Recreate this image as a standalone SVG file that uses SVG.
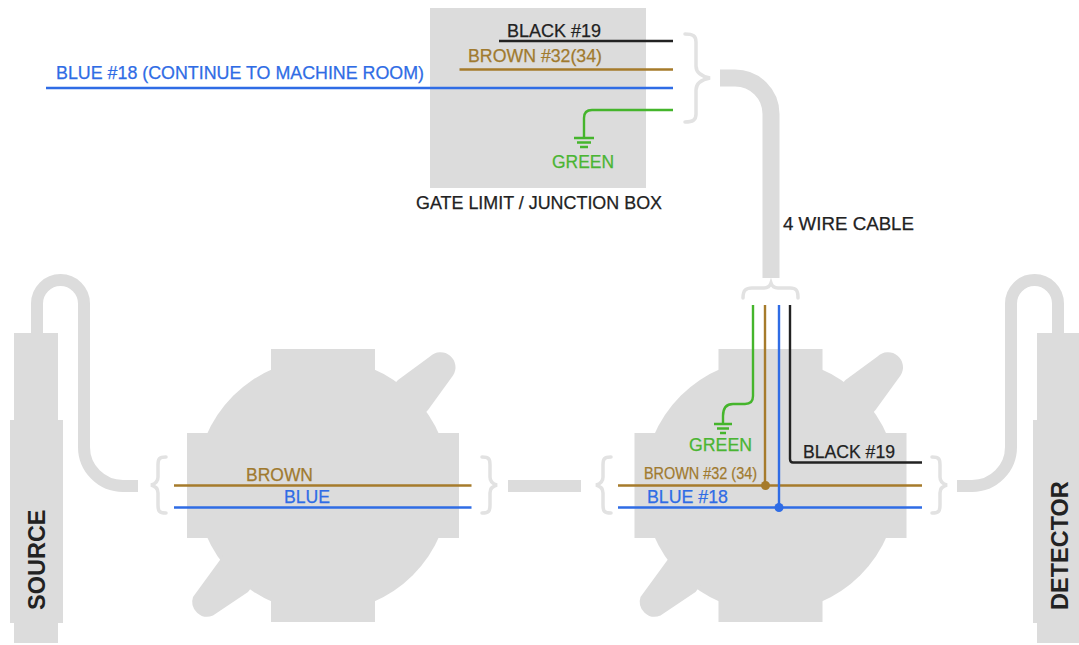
<svg xmlns="http://www.w3.org/2000/svg" width="1079" height="645" viewBox="0 0 1079 645">
<style>
text{font-family:"Liberation Sans",Arial,sans-serif;font-size:18px;stroke-width:.25px}
.g{fill:#dcdcdc;stroke:none}
.cable{fill:none;stroke:#dcdcdc}
.brace{fill:none;stroke:#e2e2e2;stroke-width:3.5;stroke-linecap:round}
.w{fill:none;stroke-width:2.4}
.k{stroke:#222}.br{stroke:#a67b2b}.bl{stroke:#2f6ce5}.gr{stroke:#45b52c}
.tk{fill:#222;stroke:#222}.tbr{fill:#a07a2f;stroke:#a07a2f}.tbl{fill:#2f6ce5;stroke:#2f6ce5}.tgr{fill:#4ab533;stroke:#4ab533}
.b{font-weight:bold;font-size:23.500px;fill:#222}
</style>
<defs>
<g id="housing">
<circle cx="0" cy="0" r="127" class="g"/>
<rect x="-52" y="-136.500" width="104" height="273" class="g"/>
<rect x="-136" y="-52.500" width="272" height="105" class="g"/>
<path class="g" d="M70-100L75-105.500L107-129A15 15 0 0 1 130-110L105-75.500L100-70Z"/>
<path class="g" d="M-70 100L-75 106.500L-110 130A15 15 0 0 1 -130 111.500L-103 74.500L-100 70Z"/>
</g>
<path id="brL" d="M16-28C9-28 8-26 8-20V-8C8-3 5-1 1 0C5 1 8 3 8 8V20C8 26 9 28 16 28" class="brace"/>
<path id="brR" d="M0-28C7-28 8-26 8-20V-8C8-3 11-1 15 0C11 1 8 3 8 8V20C8 26 7 28 0 28" class="brace"/>
</defs>

<g id="junction-box">
<rect x="430" y="8" width="216" height="180" class="g"/>
<text x="416" y="209" class="tk" textLength="246" lengthAdjust="spacingAndGlyphs">GATE LIMIT / JUNCTION BOX</text>
</g>
<g id="source">
<rect x="14" y="333" width="44" height="310" class="g"/>
<rect x="10" y="420" width="53" height="203" class="g"/>
<text transform="translate(45 610) rotate(-90)" class="b">SOURCE</text>
</g>
<g id="detector">
<rect x="1037" y="333" width="42" height="310" class="g"/>
<rect x="1033" y="420" width="46" height="203" class="g"/>
<text transform="translate(1068 610) rotate(-90)" class="b">DETECTOR</text>
</g>
<g id="left-housing"><use href="#housing" x="323" y="485.500"/></g>
<g id="right-housing"><use href="#housing" x="770.500" y="485.500"/></g>

<g id="connectors">
<path class="cable" stroke-width="12" d="M37 333V303.500A23.500 23.500 0 0 1 84 303.500V447A39 39 0 0 0 123 486H138"/>
<path class="cable" stroke-width="12" d="M1058 333V303.500A23.500 23.500 0 0 0 1011 303.500V447A39 39 0 0 1 972 486H957"/>
<rect x="508" y="480" width="73" height="12" class="g"/>
<path class="cable" stroke-width="17" d="M720 78H735A36 36 0 0 1 771 114V278"/>
<use href="#brL" x="150" y="485"/><use href="#brR" x="482" y="485"/>
<use href="#brL" x="595" y="485"/><use href="#brR" x="932" y="485"/>
<path class="brace" d="M685 34C693 34 696 36 696 42V66C696 72 700 76 710 78C700 80 696 84 696 90V114C696 120 693 122 685 122"/>
<path class="brace" d="M743 298C743 290 746 288 752 288H764C767 288 770 286 771 283C772 286 775 288 778 288H790C796 288 798 290 798 298"/>
<path class="w k" d="M499 41H673"/>
<path class="w br" d="M459.500 69.500H673"/>
<path class="w bl" d="M46 88H673"/>
<path class="w gr" d="M673 110H592Q584 110 584 118V138M574 138H594M577 142.500H591M580 147H588"/>
<path class="w br" d="M174 485.500H471.500"/>
<path class="w bl" d="M174 507.500H471.500"/>
<path class="w br" d="M618 485.500H922M765 305V485.500"/>
<path class="w bl" d="M618 507.500H922M779 305V507.500"/>
<path class="w k" d="M790 305V459Q790 462.500 793 462.500H922"/>
<path class="w gr" d="M753 305V396Q753 404 745 404H733C726 404 723 408 723 416V424M714 424H732M717 428.500H729M720 433H726"/>
<circle cx="765.500" cy="485.500" r="4.500" fill="#a67b2b"/>
<circle cx="779" cy="507.500" r="4.500" fill="#2f6ce5"/>
</g>

<g id="labels">
<text x="507" y="37" class="tk" textLength="94" lengthAdjust="spacingAndGlyphs">BLACK #19</text>
<text x="468" y="62" class="tbr" textLength="134" lengthAdjust="spacingAndGlyphs">BROWN #32(34)</text>
<text x="56" y="79" class="tbl" textLength="368" lengthAdjust="spacingAndGlyphs">BLUE #18 (CONTINUE TO MACHINE ROOM)</text>
<text x="552" y="168" class="tgr" textLength="62" lengthAdjust="spacingAndGlyphs">GREEN</text>
<text x="783" y="230" class="tk" textLength="131" lengthAdjust="spacingAndGlyphs">4 WIRE CABLE</text>
<text x="246" y="481" class="tbr" textLength="67" lengthAdjust="spacingAndGlyphs">BROWN</text>
<text x="284" y="503" class="tbl" textLength="46" lengthAdjust="spacingAndGlyphs">BLUE</text>
<text x="689" y="451" class="tgr" textLength="63" lengthAdjust="spacingAndGlyphs">GREEN</text>
<text x="644" y="479" class="tbr" style="font-size:17px" textLength="113" lengthAdjust="spacingAndGlyphs">BROWN #32 (34)</text>
<text x="647" y="503" class="tbl" textLength="81" lengthAdjust="spacingAndGlyphs">BLUE #18</text>
<text x="803" y="458" class="tk" textLength="92" lengthAdjust="spacingAndGlyphs">BLACK #19</text>
</g>
</svg>
